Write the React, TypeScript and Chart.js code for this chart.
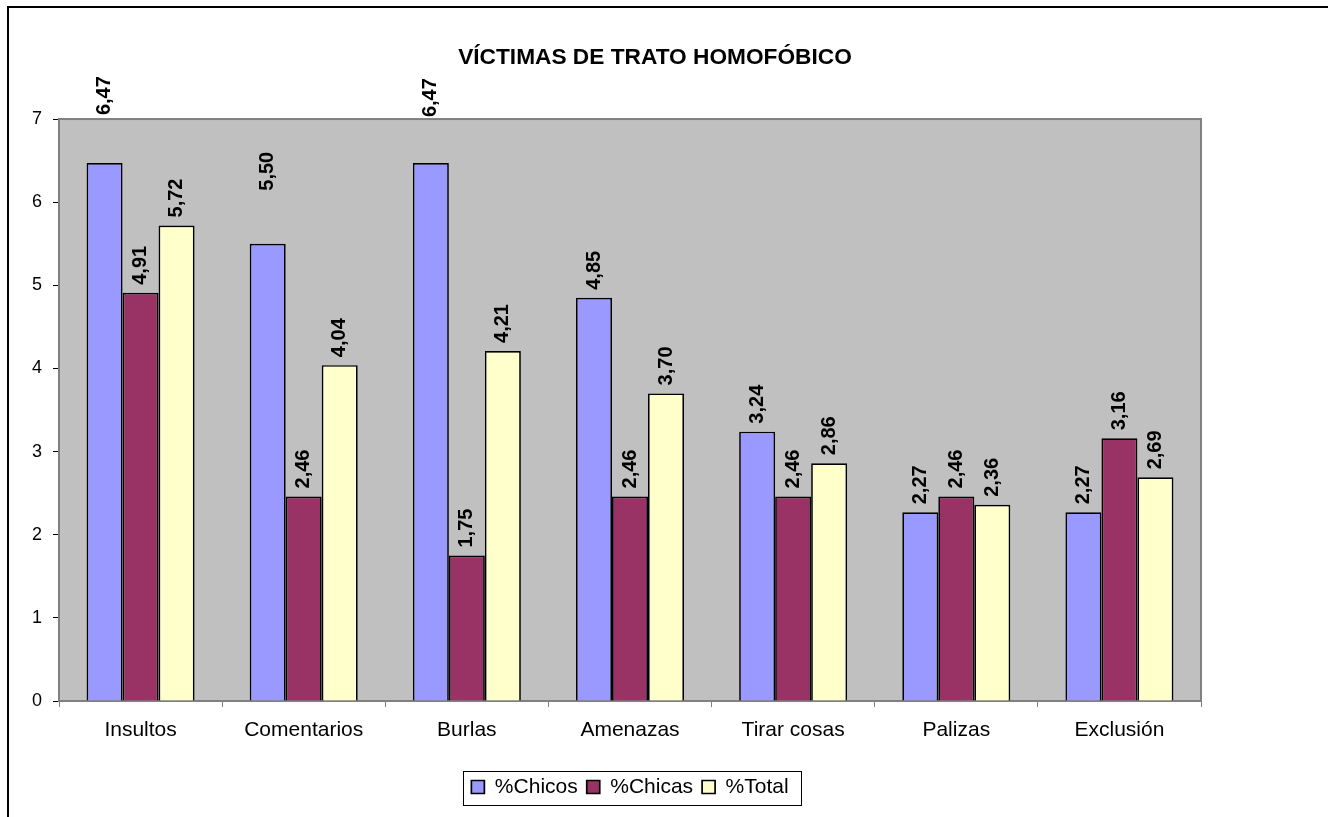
import React, { useEffect, useRef } from 'react';
import { Chart, registerables } from 'chart.js';

Chart.register(...registerables);

const categories = ['Insultos', 'Comentarios', 'Burlas', 'Amenazas', 'Tirar cosas', 'Palizas', 'Exclusión'];
const chicos = [6.47, 5.5, 6.47, 4.85, 3.24, 2.27, 2.27];
const chicas = [4.91, 2.46, 1.75, 2.46, 2.46, 2.46, 3.16];
const total = [5.72, 4.04, 4.21, 3.7, 2.86, 2.36, 2.69];
const seriesNames = ['%Chicos', '%Chicas', '%Total'];
const chartTitle = 'VÍCTIMAS DE TRATO HOMOFÓBICO';
const yMin = 0;
const yMax = 7;
const yStep = 1;

const FONT = '"Liberation Sans", Arial, sans-serif';

const plotFrame = {
  id: 'plotFrame',
  beforeDraw(chart: any) {
    const { ctx, chartArea: a } = chart;
    ctx.save();
    ctx.fillStyle = '#C0C0C0';
    ctx.fillRect(a.left, a.top, a.right - a.left, a.bottom - a.top);
    ctx.restore();
  },
  beforeDatasetsDraw(chart: any) {
    const { ctx, chartArea: a } = chart;
    ctx.save();
    ctx.strokeStyle = '#808080';
    ctx.lineWidth = 2;
    ctx.strokeRect(a.left, a.top, a.right - a.left, a.bottom - a.top);
    ctx.restore();
  },
};

const valueLabels = {
  id: 'valueLabels',
  afterDatasetsDraw(chart: any, _args: any, opts: any) {
    const { ctx } = chart;
    ctx.save();
    ctx.font = `bold ${opts.size}px ${FONT}`;
    ctx.fillStyle = '#000';
    ctx.textAlign = 'left';
    ctx.textBaseline = 'middle';
    chart.data.datasets.forEach((ds: any, di: number) => {
      const meta = chart.getDatasetMeta(di);
      meta.data.forEach((bar: any, i: number) => {
        const v = ds.data[i] as number;
        const lift = (opts.lift[di] && opts.lift[di][i]) || 0;
        const txt = v.toFixed(2).replace('.', ',');
        ctx.save();
        ctx.translate(bar.x, bar.y - opts.gap - lift);
        ctx.rotate(-Math.PI / 2);
        ctx.fillText(txt, 0, 0);
        ctx.restore();
      });
    });
    ctx.restore();
  },
};

const legendFrame = {
  id: 'legendFrame',
  afterDraw(chart: any) {
    const lg = chart.legend;
    if (!lg || !lg.legendHitBoxes || !lg.legendHitBoxes.length) return;
    const hb = lg.legendHitBoxes;
    let l = Infinity, r = -Infinity, t = Infinity, b = -Infinity;
    hb.forEach((h: any) => {
      l = Math.min(l, h.left);
      r = Math.max(r, h.left + h.width);
      t = Math.min(t, h.top);
      b = Math.max(b, h.top + h.height);
    });
    const { ctx } = chart;
    ctx.save();
    ctx.strokeStyle = '#000';
    ctx.lineWidth = 1;
    ctx.strokeRect(Math.round(l - 8) + 0.5, Math.round(t - 6) + 0.5, Math.round(r - l + 21), Math.round(b - t + 13));
    ctx.restore();
  },
};

export default function App() {
  const ref = useRef<HTMLCanvasElement>(null);

  useEffect(() => {
    if (!ref.current) return;
    Chart.defaults.font.family = FONT;
    const chart = new Chart(ref.current, {
      type: 'bar',
      data: {
        labels: categories,
        datasets: [
          { label: seriesNames[0], data: chicos, backgroundColor: '#9999FF', borderColor: '#000', borderWidth: 1.7 },
          { label: seriesNames[1], data: chicas, backgroundColor: '#993366', borderColor: '#000', borderWidth: 1.7 },
          { label: seriesNames[2], data: total, backgroundColor: '#FFFFCC', borderColor: '#000', borderWidth: 1.7 },
        ],
      },
      options: {
        responsive: false,
        animation: false,
        datasets: { bar: { categoryPercentage: 0.662, barPercentage: 1 } } as any,
        layout: { padding: { left: 0, right: 0, top: 0, bottom: 9.5 } },
        plugins: {
          title: {
            display: true,
            text: chartTitle,
            color: '#000',
            font: { size: 22.7, weight: 'bold' },
            padding: { top: 36.6, bottom: 47.2 },
          },
          legend: {
            position: 'bottom',
            fullSize: false,
            labels: { boxWidth: 13, boxHeight: 13, padding: 9, color: '#000', font: { size: 21 } },
          },
          tooltip: { enabled: false },
          valueLabels: { size: 20, gap: 8, lift: [[40, 45, 38, 0, 0, 0, 0], [], []] },
        } as any,
        scales: {
          x: {
            grid: { display: true, drawOnChartArea: false, drawTicks: true, tickLength: 6, color: '#808080', offset: true },
            border: { display: false },
            ticks: { color: '#000', font: { size: 21 }, padding: 11, maxRotation: 0, autoSkip: false },
            afterFit: (s: any) => { s.height = 66.5; },
          },
          y: {
            min: yMin,
            max: yMax,
            ticks: { stepSize: yStep, color: '#000', font: { size: 18 }, padding: 11 },
            grid: { display: true, drawOnChartArea: false, drawTicks: true, tickLength: 6, color: '#000' },
            border: { display: false },
            afterFit: (s: any) => { s.width = 50; },
          },
          y2: {
            position: 'right',
            display: true,
            grid: { display: false },
            ticks: { display: false },
            border: { display: false },
            afterFit: (s: any) => { s.width = 100; },
          },
        } as any,
      },
      plugins: [plotFrame, valueLabels, legendFrame],
    });
    return () => chart.destroy();
  }, []);

  return (
    <div
      style={{
        position: 'absolute',
        left: 7,
        top: 6,
        width: 1319,
        height: 809,
        borderTop: '2px solid #000',
        borderLeft: '2px solid #000',
        background: '#fff',
        overflow: 'hidden',
      }}
    >
      <canvas ref={ref} width={1292} height={809} style={{ display: 'block', width: 1292, height: 809 }} />
    </div>
  );
}
